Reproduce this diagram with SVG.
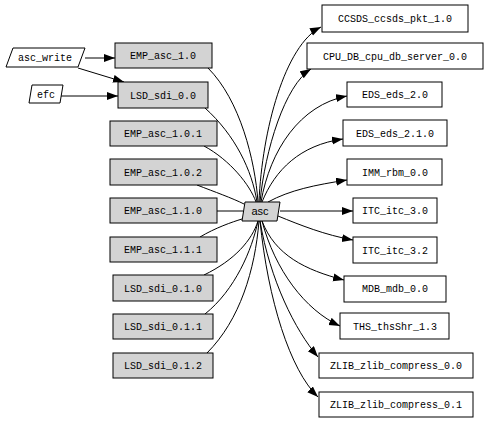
<svg xmlns="http://www.w3.org/2000/svg" width="490" height="421" viewBox="0 0 490 421">
<style>
.bg{fill:#ffffff}
.g rect,.g polygon{fill:#d3d3d3;stroke:#000;stroke-width:1}
.w rect,.w polygon{fill:#ffffff;stroke:#000;stroke-width:1}
text{font-family:"Liberation Mono","DejaVu Sans Mono",monospace;font-size:10px;fill:#000;text-anchor:middle}
.sans{font-family:"Liberation Sans",Arial,sans-serif;font-size:11px}
#edges path{fill:none;stroke:#000;stroke-width:1}
#edges path.a{marker-end:url(#ah)}
</style>
<defs>
<marker id="ah" markerUnits="userSpaceOnUse" markerWidth="12" markerHeight="9" refX="11" refY="4" orient="auto">
<path d="M0,0 L11,4 L0,8 z" fill="#000"/>
</marker>
</defs>
<rect class="bg" x="0" y="0" width="490" height="421"/>
<g id="edges">
<path class="a" d="M85,58 L115,58"/>
<path class="a" d="M78,68 L124,82"/>
<path class="a" d="M61,96 L118,96"/>
<path d="M208,68 C240,100 255,160 258,202"/>
<path d="M205,108 C235,135 252,170 257,202"/>
<path d="M204,146 C230,160 250,185 256,202"/>
<path d="M197,185 C215,192 232,198 244,204"/>
<path d="M217,211 L243,211"/>
<path d="M200,237 C215,228 232,222 242,219"/>
<path d="M204,275 C235,260 252,240 258,221"/>
<path d="M205,314 C235,290 252,250 258,221"/>
<path d="M207,353 C240,320 255,270 259,221"/>
<path class="a" d="M259,202 C262,130 285,45 321,27"/>
<path class="a" d="M260,202 C265,150 285,85 311,69"/>
<path class="a" d="M261,202 C270,150 300,105 347,96"/>
<path class="a" d="M262,202 C275,170 300,145 343,139"/>
<path class="a" d="M268,202 C290,190 315,185 347,180"/>
<path class="a" d="M280,211 L353,211"/>
<path class="a" d="M278,216 C300,225 325,235 353,240"/>
<path class="a" d="M262,221 C275,255 305,270 344,280"/>
<path class="a" d="M262,221 C275,270 305,310 340,326"/>
<path class="a" d="M260,221 C270,280 295,330 318,357"/>
<path class="a" d="M260,221 C268,300 290,370 318,397"/>
</g>
<g id="asc_write" class="w"><polygon points="13,48 85,48 78,67 6,67"/><text x="45" y="61">asc_write</text></g>
<g id="efc" class="w"><polygon points="32,85 63,85 60,103 29,103"/><text x="46" y="98">efc</text></g>
<g id="EMP_asc_1.0" class="g"><rect x="115" y="43" width="97" height="25"/><text x="163" y="59">EMP_asc_1.0</text></g>
<g id="LSD_sdi_0.0" class="g"><rect x="118" y="82" width="90" height="26"/><text x="163" y="99">LSD_sdi_0.0</text></g>
<g id="EMP_asc_1.0.1" class="g"><rect x="110" y="121" width="107" height="25"/><text x="163" y="137">EMP_asc_1.0.1</text></g>
<g id="EMP_asc_1.0.2" class="g"><rect x="110" y="159" width="107" height="26"/><text x="163" y="176">EMP_asc_1.0.2</text></g>
<g id="EMP_asc_1.1.0" class="g"><rect x="110" y="198" width="107" height="25"/><text x="163" y="214">EMP_asc_1.1.0</text></g>
<g id="EMP_asc_1.1.1" class="g"><rect x="110" y="237" width="107" height="25"/><text x="163" y="253">EMP_asc_1.1.1</text></g>
<g id="LSD_sdi_0.1.0" class="g"><rect x="113" y="275" width="100" height="26"/><text x="163" y="292">LSD_sdi_0.1.0</text></g>
<g id="LSD_sdi_0.1.1" class="g"><rect x="113" y="314" width="100" height="25"/><text x="163" y="330">LSD_sdi_0.1.1</text></g>
<g id="LSD_sdi_0.1.2" class="g"><rect x="113" y="353" width="100" height="25"/><text x="163" y="369">LSD_sdi_0.1.2</text></g>
<g id="asc" class="g"><polygon points="245,202 280,202 277,221 242,221"/><text class="sans" x="260" y="215">asc</text></g>
<g id="CCSDS_ccsds_pkt_1.0" class="w"><rect x="322" y="5" width="146" height="27"/><text x="395" y="22">CCSDS_ccsds_pkt_1.0</text></g>
<g id="CPU_DB_cpu_db_server_0.0" class="w"><rect x="307" y="43" width="176" height="26"/><text x="395" y="60">CPU_DB_cpu_db_server_0.0</text></g>
<g id="EDS_eds_2.0" class="w"><rect x="347" y="82" width="95" height="25"/><text x="395" y="98">EDS_eds_2.0</text></g>
<g id="EDS_eds_2.1.0" class="w"><rect x="343" y="120" width="104" height="26"/><text x="395" y="137">EDS_eds_2.1.0</text></g>
<g id="IMM_rbm_0.0" class="w"><rect x="347" y="159" width="95" height="26"/><text x="395" y="176">IMM_rbm_0.0</text></g>
<g id="ITC_itc_3.0" class="w"><rect x="353" y="198" width="84" height="25"/><text x="395" y="214">ITC_itc_3.0</text></g>
<g id="ITC_itc_3.2" class="w"><rect x="353" y="237" width="84" height="26"/><text x="395" y="254">ITC_itc_3.2</text></g>
<g id="MDB_mdb_0.0" class="w"><rect x="344" y="276" width="102" height="26"/><text x="395" y="292">MDB_mdb_0.0</text></g>
<g id="THS_thsShr_1.3" class="w"><rect x="340" y="313" width="109" height="26"/><text x="395" y="330">THS_thsShr_1.3</text></g>
<g id="ZLIB_zlib_compress_0.0" class="w"><rect x="319" y="353" width="154" height="25"/><text x="396" y="369">ZLIB_zlib_compress_0.0</text></g>
<g id="ZLIB_zlib_compress_0.1" class="w"><rect x="319" y="392" width="154" height="25"/><text x="396" y="408">ZLIB_zlib_compress_0.1</text></g>
</svg>
